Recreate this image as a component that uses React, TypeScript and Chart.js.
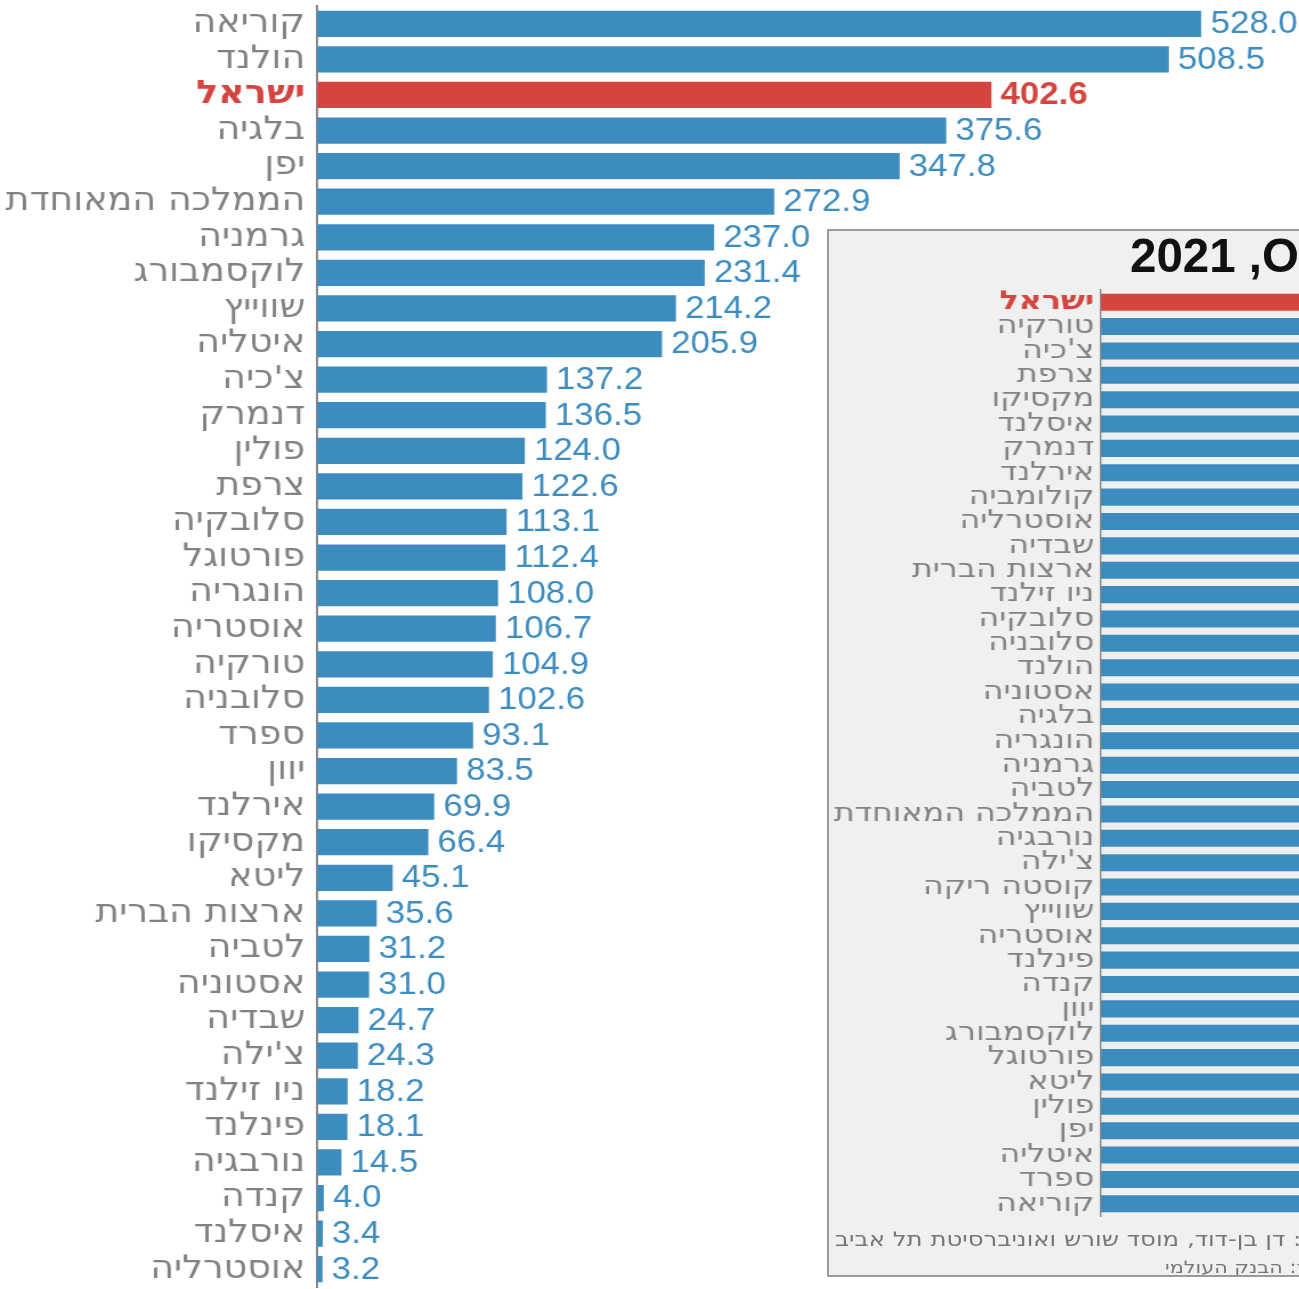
import React, { useEffect, useRef } from 'react';
import { Chart, registerables } from 'chart.js';

Chart.register(...registerables);

// ---- Main chart data ----
const countries = [
  'קוריאה', 'הולנד', 'ישראל', 'בלגיה', 'יפן', 'הממלכה המאוחדת', 'גרמניה', 'לוקסמבורג', 'שווייץ', 'איטליה',
  "צ'כיה", 'דנמרק', 'פולין', 'צרפת', 'סלובקיה', 'פורטוגל', 'הונגריה', 'אוסטריה', 'טורקיה', 'סלובניה',
  'ספרד', 'יוון', 'אירלנד', 'מקסיקו', 'ליטא', 'ארצות הברית', 'לטביה', 'אסטוניה', 'שבדיה', "צ'ילה",
  'ניו זילנד', 'פינלנד', 'נורבגיה', 'קנדה', 'איסלנד', 'אוסטרליה',
];
const values = [
  528.0, 508.5, 402.6, 375.6, 347.8, 272.9, 237.0, 231.4, 214.2, 205.9,
  137.2, 136.5, 124.0, 122.6, 113.1, 112.4, 108.0, 106.7, 104.9, 102.6,
  93.1, 83.5, 69.9, 66.4, 45.1, 35.6, 31.2, 31.0, 24.7, 24.3,
  18.2, 18.1, 14.5, 4.0, 3.4, 3.2,
];

// ---- Inset chart data ----
const insetCountries = [
  'ישראל', 'טורקיה', "צ'כיה", 'צרפת', 'מקסיקו', 'איסלנד', 'דנמרק', 'אירלנד', 'קולומביה', 'אוסטרליה',
  'שבדיה', 'ארצות הברית', 'ניו זילנד', 'סלובקיה', 'סלובניה', 'הולנד', 'אסטוניה', 'בלגיה', 'הונגריה', 'גרמניה',
  'לטביה', 'הממלכה המאוחדת', 'נורבגיה', "צ'ילה", 'קוסטה ריקה', 'שווייץ', 'אוסטריה', 'פינלנד', 'קנדה', 'יוון',
  'לוקסמבורג', 'פורטוגל', 'ליטא', 'פולין', 'יפן', 'איטליה', 'ספרד', 'קוריאה',
];
const insetValues = [
  3.0, 1.88, 1.83, 1.83, 1.82, 1.82, 1.72, 1.72, 1.71, 1.70,
  1.67, 1.66, 1.64, 1.63, 1.63, 1.62, 1.61, 1.60, 1.59, 1.58,
  1.57, 1.56, 1.55, 1.54, 1.53, 1.51, 1.48, 1.46, 1.43, 1.43,
  1.38, 1.35, 1.34, 1.33, 1.30, 1.25, 1.19, 0.81,
];

const highlight = 'ישראל';
const insetTitle = 'שיעור הפריון הכולל במדינות OECD\u200F, 2021';
const sourceLine1 = 'עיבוד: דן בן-דוד, מוסד שורש ואוניברסיטת תל אביב';
const sourceLine2 = 'מקור: הבנק העולמי';

const BLUE = '#3d8cc0';
const RED = '#d5453f';
const GREY = '#828282';
const LABEL_FONT = '"DejaVu Sans", sans-serif';
const VALUE_FONT = '"Liberation Sans", Arial, sans-serif';

// horizontal stretch factors of the picture
const SX_MAIN = 1.14;
const SX_INSET = 1.22;
const MAIN_W = Math.round(1299 / SX_MAIN);

const valueLabelPlugin = {
  id: 'valueLabels',
  afterDatasetsDraw(chart: any) {
    const ctx = chart.ctx;
    const meta = chart.getDatasetMeta(0);
    ctx.save();
    ctx.textBaseline = 'middle';
    ctx.textAlign = 'left';
    meta.data.forEach((bar: any, i: number) => {
      const hl = countries[i] === highlight;
      ctx.font = `${hl ? 'bold ' : ''}30.5px ${VALUE_FONT}`;
      ctx.fillStyle = hl ? RED : BLUE;
      ctx.fillText(values[i].toFixed(1), bar.x + 8, bar.y + 1);
    });
    ctx.restore();
  },
};

export default function App() {
  const mainRef = useRef<HTMLCanvasElement>(null);
  const insetRef = useRef<HTMLCanvasElement>(null);

  useEffect(() => {
    const mainAxisW = 317 / SX_MAIN;
    const mainRight = 1201 / SX_MAIN;
    const main = new Chart(mainRef.current!, {
      type: 'bar',
      data: {
        labels: countries,
        datasets: [
          {
            data: values,
            backgroundColor: countries.map((c) => (c === highlight ? RED : BLUE)),
            barPercentage: 0.74,
            categoryPercentage: 1,
          },
        ],
      },
      options: {
        responsive: false,
        animation: false,
        indexAxis: 'y',
        layout: { padding: { top: 6, bottom: 2, right: MAIN_W - mainRight, left: 0 } },
        plugins: { legend: { display: false }, tooltip: { enabled: false } },
        scales: {
          x: { display: false, min: 0, max: 528 },
          y: {
            grid: { display: false, drawTicks: false },
            border: { display: true, color: '#8a8a8a', width: 2 },
            ticks: {
              padding: 10.5,
              autoSkip: false,
              color: (ctx: any) => (countries[ctx.index] === highlight ? RED : GREY),
              font: (ctx: any) => ({
                family: LABEL_FONT,
                size: 32,
                weight: countries[ctx.index] === highlight ? 'bold' : 'normal',
              }),
            },
            afterFit: (scale: any) => {
              scale.width = mainAxisW;
              scale.paddingTop = 0;
              scale.paddingBottom = 0;
            },
          },
        },
      },
      plugins: [valueLabelPlugin],
    } as any);

    const insetAxisW = (1101 - 829) / SX_INSET;
    const inset = new Chart(insetRef.current!, {
      type: 'bar',
      data: {
        labels: insetCountries,
        datasets: [
          {
            data: insetValues,
            backgroundColor: insetCountries.map((c) => (c === highlight ? RED : BLUE)),
            barPercentage: 0.7,
            categoryPercentage: 1,
          },
        ],
      },
      options: {
        responsive: false,
        animation: false,
        indexAxis: 'y',
        layout: { padding: { top: 59, bottom: 59, right: 0, left: 0 } },
        plugins: { legend: { display: false }, tooltip: { enabled: false } },
        scales: {
          x: { display: false, min: 0, max: 3.1 },
          y: {
            grid: { display: false, drawTicks: false },
            border: { display: true, color: '#8a8a8a', width: 1.2 },
            ticks: {
              padding: 5.5,
              autoSkip: false,
              color: (ctx: any) => (insetCountries[ctx.index] === highlight ? RED : GREY),
              font: (ctx: any) => ({
                family: LABEL_FONT,
                size: 26,
                weight: insetCountries[ctx.index] === highlight ? 'bold' : 'normal',
              }),
            },
            afterFit: (scale: any) => {
              scale.width = insetAxisW;
              scale.paddingTop = 0;
              scale.paddingBottom = 0;
            },
          },
        },
      },
    } as any);

    return () => {
      main.destroy();
      inset.destroy();
    };
  }, []);

  return (
    <div
      style={{
        position: 'absolute',
        left: 0,
        top: 0,
        width: 1299,
        height: 1289,
        overflow: 'hidden',
        background: '#ffffff',
      }}
    >
      <div
        style={{
          position: 'absolute',
          left: 0,
          top: 0,
          width: MAIN_W,
          height: 1289,
          transform: `scaleX(${1299 / MAIN_W})`,
          transformOrigin: '0 0',
        }}
      >
        <canvas
          ref={mainRef}
          width={MAIN_W}
          height={1289}
          style={{ position: 'absolute', left: 0, top: 0, width: MAIN_W, height: 1289 }}
        />
      </div>
      <div
        style={{
          position: 'absolute',
          left: 827,
          top: 229,
          width: 1400,
          height: 1048,
          boxSizing: 'border-box',
          border: '2px solid #9a9a9a',
          background: '#eff0ef',
          overflow: 'hidden',
        }}
      >
        <div
          style={{
            position: 'absolute',
            left: 0,
            top: 0,
            width: 1200,
            height: 1044,
            transform: `scaleX(${SX_INSET})`,
            transformOrigin: '0 0',
          }}
        >
          <canvas
            ref={insetRef}
            width={1200}
            height={1044}
            style={{ position: 'absolute', left: 0, top: 0, width: 1200, height: 1044 }}
          />
          <div
            style={{
              position: 'absolute',
              left: (835 - 829) / SX_INSET,
              top: 995,
              whiteSpace: 'nowrap',
              direction: 'rtl',
              font: `20px ${LABEL_FONT}`,
              lineHeight: '26px',
              color: '#777777',
            }}
          >
            {sourceLine1}
          </div>
          <div
            style={{
              position: 'absolute',
              left: (1165 - 829) / SX_INSET,
              top: 1025,
              whiteSpace: 'nowrap',
              direction: 'rtl',
              font: `17px ${LABEL_FONT}`,
              lineHeight: '22px',
              color: '#777777',
            }}
          >
            {sourceLine2}
          </div>
        </div>
      </div>
      <div
        style={{
          position: 'absolute',
          left: 1130,
          top: 232,
          whiteSpace: 'nowrap',
          direction: 'rtl',
          font: `bold 47.5px ${VALUE_FONT}`,
          lineHeight: '47.5px',
          color: '#111111',
        }}
      >
        {insetTitle}
      </div>
    </div>
  );
}
